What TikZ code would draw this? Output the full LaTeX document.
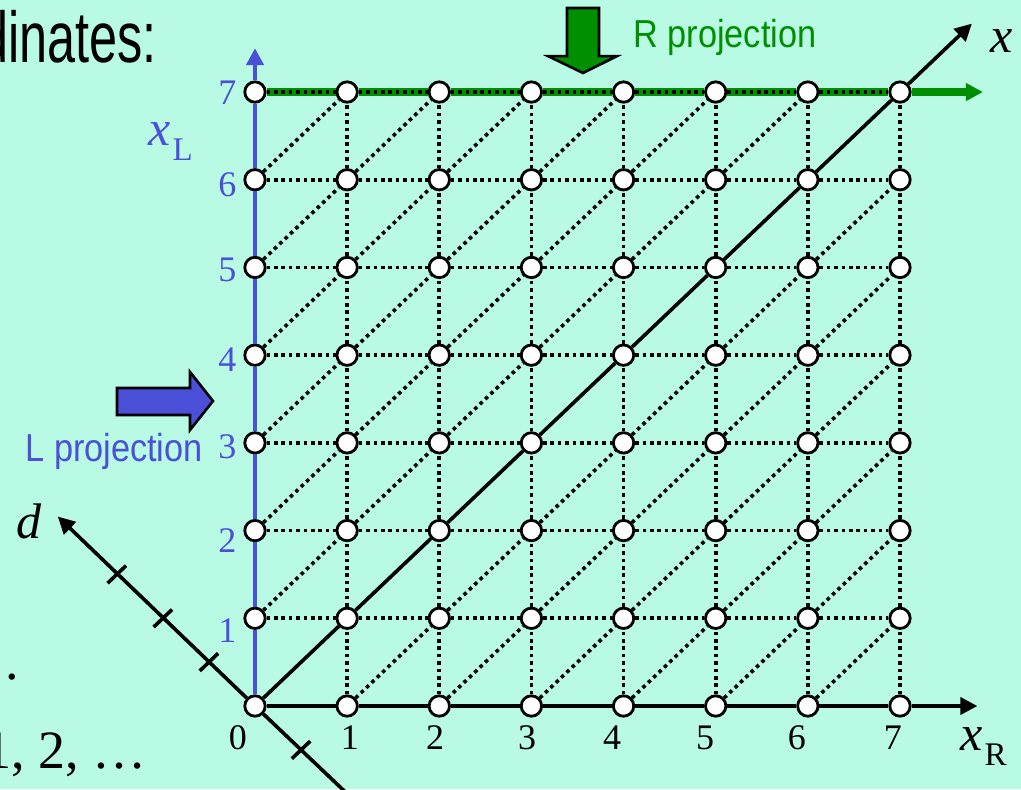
\documentclass[tikz,border=0pt]{standalone}
\usepackage{fontspec}
\setmainfont{Liberation Serif}
\newfontfamily\projfont[FakeStretch=0.88]{Liberation Sans}
\newfontfamily\headfont[FakeStretch=0.70]{Liberation Sans}
\usetikzlibrary{arrows.meta}
\definecolor{slidebg}{HTML}{B9FAE4}
\definecolor{lblue}{HTML}{4A50D8}
\definecolor{rgreen}{HTML}{008F00}
\tikzset{
  gridpt/.style={circle,draw,fill=white,line width=1.4pt,minimum size=10.2pt,inner sep=0pt},
  dotline/.style={line width=1.8pt,dash pattern=on 1.8pt off 1.9pt},
  axisline/.style={line width=1.8pt},
  arrowend/.style={-{Triangle[length=8.5pt,width=8.5pt]}},
  num/.style={font=\fontsize{18}{18}\selectfont,inner sep=0pt},
  axlab/.style={anchor=base west,inner sep=0pt,font=\fontsize{25}{25}\selectfont},
  projlab/.style={anchor=base west,inner sep=0pt,font=\projfont\fontsize{19.5}{19.5}\selectfont}
}
\begin{document}
\begin{tikzpicture}[x=46.07pt,y=43.855pt]
\fill[slidebg] (-2.7675,-0.9463) rectangle (8.3134,8.0493);
\useasboundingbox (-2.7675,-0.9463) rectangle (8.3134,8.0493);
\foreach \i in {0,...,7}{
  \foreach \j in {0,...,7}{
    \node[gridpt] (p-\i-\j) at (\i,\j) {};
  }
}
\coordinate (ltip) at (0,7.5);
\coordinate (rtip) at (7.84,0);
\coordinate (gtip) at (7.9,7);
\coordinate (xtip) at (7.78,7.78);
\coordinate (dtip) at (-2.14,2.16);
\coordinate (dend) at (1,-1);
\foreach \k [evaluate=\k as \n using int(\k+1)] in {0,...,6}{
  \draw[lblue,line width=2.2pt] (p-0-\k) -- (p-0-\n);
  \draw[axisline] (p-\k-0) -- (p-\n-0);
  \draw[axisline] (p-\k-\k) -- (p-\n-\n);
  \draw[rgreen,line width=3.6pt] (p-\k-7) -- (p-\n-7);
  \draw[dotline] (p-\k-7) -- (p-\n-7);
}
\foreach \i in {1,...,7}{
  \foreach \k [evaluate=\k as \n using int(\k+1)] in {0,...,6}{
    \draw[dotline] (p-\i-\k) -- (p-\i-\n);
  }
}
\foreach \j in {1,...,6}{
  \foreach \k [evaluate=\k as \n using int(\k+1)] in {0,...,6}{
    \draw[dotline] (p-\k-\j) -- (p-\n-\j);
  }
}
\foreach \i [evaluate=\i as \ii using int(\i+1)] in {0,...,6}{
  \foreach \j [evaluate=\j as \jj using int(\j+1)] in {0,...,6}{
    \ifnum\i=\j\else\draw[dotline] (p-\i-\j) -- (p-\ii-\jj);\fi
  }
}
\draw[lblue,line width=2.2pt,arrowend] (p-0-7) -- (ltip);
\draw[axisline,arrowend] (p-7-0) -- (rtip);
\draw[rgreen,line width=3.6pt,arrowend] (p-7-7) -- (gtip);
\draw[axisline,arrowend] (p-7-7) -- (xtip);
\draw[axisline,arrowend] (p-0-0) -- (dtip);
\draw[axisline] (p-0-0) -- (dend);
\foreach \t in {-1,1,2,3}{
  \draw[axisline] ({-0.5*\t-0.1},{0.5*\t-0.1}) -- ({-0.5*\t+0.1},{0.5*\t+0.1});
}
\draw[fill=lblue,line width=1.3pt] (-1.498,3.626) -- (-0.705,3.626) -- (-0.705,3.808) -- (-0.456,3.477) -- (-0.705,3.147) -- (-0.705,3.318) -- (-1.498,3.318) -- cycle;
\draw[fill=rgreen,line width=1.3pt] (3.386,7.958) -- (3.733,7.958) -- (3.733,7.41) -- (3.929,7.41) -- (3.56,7.217) -- (3.18,7.41) -- (3.386,7.41) -- cycle;
\foreach \j/\y in {1/0.855,2/1.881,3/2.953,4/3.945,5/4.97,6/5.94,7/6.989}{
  \node[num,lblue] (yl-\j) at (-0.3,\y) {\j};
}
\foreach \i/\x in {0/-0.185,1/1.031,2/1.954,3/2.952,4/3.875,5/4.884,6/5.882,7/6.924}{
  \node[num] (xl-\i) at (\x,-0.365) {\i};
}
\node[axlab,lblue] (xL) at (-1.161,6.396) {\textit{x}\kern1pt\raisebox{-7.5pt}{\fontsize{16.5}{16.5}\selectfont L}};
\node[axlab] (xR) at (7.652,-0.502) {\textit{x}\kern1pt\raisebox{-7.5pt}{\fontsize{16.5}{16.5}\selectfont R}};
\node[axlab] (xd) at (7.977,7.456) {\textit{x}};
\node[axlab] (dd) at (-2.594,1.915) {\textit{d}};
\node[projlab,rgreen] (rproj) at (4.102,7.502) {R projection};
\node[projlab,lblue] (lproj) at (-2.496,2.782) {L projection};
\node[anchor=base east,inner sep=0pt,font=\headfont\fontsize{36}{36}\selectfont] (head) at (-1.064,7.331) {coordinates:};
\node[anchor=base west,inner sep=0pt,font=\fontsize{27}{27}\selectfont] (seq) at (-2.94,-0.707) {1, 2, \dots};
\node[inner sep=0pt,font=\fontsize{27}{27}\selectfont] (stop) at (-2.637,0.331) {.};
\end{tikzpicture}
\end{document}
